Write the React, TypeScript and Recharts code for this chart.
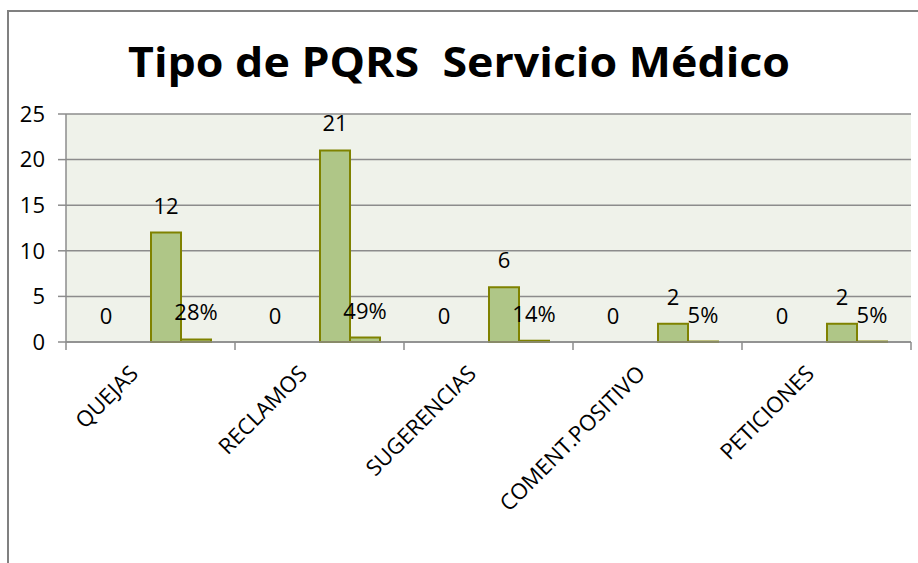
import React from 'react';
import { BarChart, Bar, XAxis, YAxis, CartesianGrid, LabelList } from 'recharts';

const categories = ['QUEJAS', 'RECLAMOS', 'SUGERENCIAS', 'COMENT.POSITIVO', 'PETICIONES'];
const serieCeros = [0, 0, 0, 0, 0];
const serieVacia: (number | null)[] = [null, null, null, null, null];
const cantidades = [12, 21, 6, 2, 2];
const porcentajes = [0.28, 0.49, 0.14, 0.05, 0.05];
const yTicks = [0, 5, 10, 15, 20, 25];

const data = categories.map((name, i) => ({
  name,
  s1: serieCeros[i],
  s2: serieVacia[i],
  s3: cantidades[i],
  s4: porcentajes[i],
}));

const FONT = '"Open Sans", sans-serif';
const GRID = '#8c8c8c';
const FILL = '#afc687';
const STROKE = '#7f8200';

const CatTick = (props: any) => {
  const { x, y, payload, index, visibleTicksCount, width } = props;
  const band = Number(width) / Number(visibleTicksCount || 1);
  const half = band / 2;
  const last = index === (visibleTicksCount || 1) - 1;
  return (
    <g>
      {isFinite(half) && (
        <line x1={x - half} y1={y} x2={x - half} y2={y + 8} stroke={GRID} strokeWidth={1.5} />
      )}
      {isFinite(half) && last && (
        <line x1={x + half} y1={y} x2={x + half} y2={y + 8} stroke={GRID} strokeWidth={1.5} />
      )}
      <g transform={`translate(${x - 11},${y + 33})`}>
        <text transform="rotate(-45)" textAnchor="end" fontFamily={FONT} fontSize={22} fill="#000">
          {payload.value}
        </text>
      </g>
    </g>
  );
};

const labelStyle = { fontFamily: FONT, fontSize: 22, fill: '#000' };

export default function App() {
  return (
    <div style={{ position: 'absolute', left: 0, top: 0, width: 918, height: 563, background: '#fff' }}>
      <div
        style={{
          position: 'absolute',
          left: 7,
          top: 10,
          width: 930,
          height: 600,
          borderTop: '2px solid #808080',
          borderLeft: '2px solid #808080',
        }}
      />
      <div style={{ position: 'absolute', left: 0, top: 0 }}>
        <BarChart
          width={918}
          height={563}
          data={data}
          margin={{ top: 114, right: 7, bottom: 220, left: 0 }}
          barSize={30}
          barGap={0}
        >
          <CartesianGrid vertical={false} stroke={GRID} strokeWidth={1.5} fill="#eff2ea" />
          <XAxis
            dataKey="name"
            height={1}
            axisLine={{ stroke: GRID, strokeWidth: 1.5 }}
            tickLine={false}
            tickSize={0}
            tickMargin={0}
            interval={0}
            tick={<CatTick />}
          />
          <YAxis
            width={66}
            domain={[0, 25]}
            ticks={yTicks}
            tickSize={8}
            tickMargin={13}
            axisLine={{ stroke: GRID, strokeWidth: 1.5 }}
            tickLine={{ stroke: GRID, strokeWidth: 1.5 }}
            tick={{ fontFamily: FONT, fontSize: 22, fill: '#000' }}
          />
          <Bar dataKey="s1" fill="transparent" stroke="none" minPointSize={0.5} isAnimationActive={false}>
            <LabelList dataKey="s1" position="top" offset={18} style={labelStyle} />
          </Bar>
          <Bar dataKey="s2" fill={FILL} stroke={STROKE} strokeWidth={2} isAnimationActive={false} />
          <Bar dataKey="s3" fill={FILL} stroke={STROKE} strokeWidth={2} isAnimationActive={false}>
            <LabelList dataKey="s3" position="top" offset={19} style={labelStyle} />
          </Bar>
          <Bar dataKey="s4" fill={FILL} stroke={STROKE} strokeWidth={2} isAnimationActive={false}>
            <LabelList
              dataKey="s4"
              position="top"
              offset={19}
              style={labelStyle}
              formatter={(v: any) => `${Math.round(Number(v) * 100)}%`}
            />
          </Bar>
        </BarChart>
      </div>
      <svg
        width={918}
        height={110}
        style={{ position: 'absolute', left: 0, top: 0, pointerEvents: 'none' }}
      >
        <text
          x={459}
          y={77}
          textAnchor="middle"
          fontFamily={FONT}
          fontWeight={700}
          fontSize={42}
          fill="#000"
          textLength={662}
          lengthAdjust="spacingAndGlyphs"
          style={{ whiteSpace: 'pre' }}
        >
          Tipo de PQRS  Servicio Médico
        </text>
      </svg>
    </div>
  );
}
